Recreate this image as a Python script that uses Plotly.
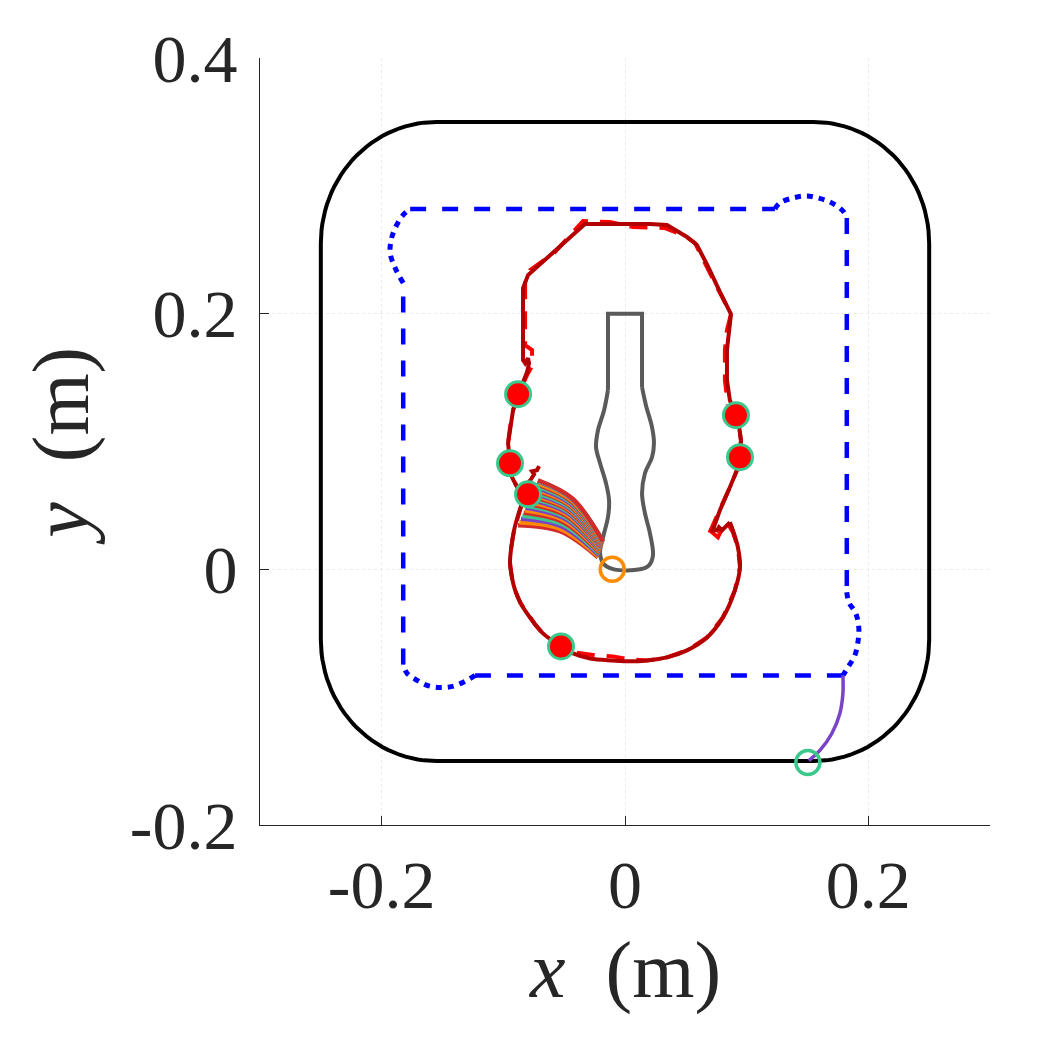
import numpy as np
import plotly.graph_objects as go

# ---------------- data (metres) ----------------
x_ticks = [-0.2, 0.0, 0.2]
x_tick_labels = ["-0.2", "0", "0.2"]
y_ticks = [-0.2, 0.0, 0.2, 0.4]
y_tick_labels = ["-0.2", "0", "0.2", "0.4"]

# workspace boundary (rounded rectangle)
ws_x = [-0.25, 0.25]
ws_y = [-0.15, 0.35]
ws_radius = 0.095

# blue dashed straight parts
blue_dash_x = [-0.1766, 0.1232, None, 0.1823, 0.1823, None, 0.1791, -0.1232, None, -0.1823, -0.1823]
blue_dash_y = [0.2819, 0.2819, None, 0.2749, -0.0180, None, -0.0830, -0.0830, None, -0.0744, 0.2240]
# blue dotted corner parts
blue_dot_x = [-0.1823, -0.1889, -0.1930, -0.1922, -0.1889, -0.1823, -0.1766, None,
              0.1232, 0.1273, 0.1380, 0.1495, 0.1585, 0.1684, 0.1791, 0.1823, None,
              0.1823, 0.1840, 0.1897, 0.1922, 0.1914, 0.1889, 0.1832, 0.1791, None,
              -0.1232, -0.1314, -0.1421, -0.1528, -0.1626, -0.1708, -0.1791, -0.1823]
blue_dot_y = [0.2240, 0.2357, 0.2475, 0.2576, 0.2670, 0.2772, 0.2819, None,
              0.2819, 0.2866, 0.2905, 0.2921, 0.2905, 0.2874, 0.2804, 0.2749, None,
              -0.0180, -0.0258, -0.0345, -0.0462, -0.0572, -0.0673, -0.0767, -0.0830, None,
              -0.0830, -0.0877, -0.0916, -0.0924, -0.0908, -0.0869, -0.0814, -0.0744]

# purple approach path
purple_x = [0.1791, 0.1791, 0.1766, 0.1700, 0.1602, 0.1511]
purple_y = [-0.0830, -0.0971, -0.1128, -0.1284, -0.1417, -0.1496]

# bottle outline
neck_x = [-0.0140, -0.0140, 0.0140, 0.0140]
neck_y = [0.1402, 0.2000, 0.2000, 0.1425]
body_x = [-0.0140, -0.0172, -0.0222, -0.0238, -0.0205, -0.0156, -0.0131, -0.0140, -0.0172,
          -0.0205, -0.0172, -0.0090, 0.0123, 0.0197, 0.0230, 0.0205, 0.0164, 0.0140, 0.0164,
          0.0222, 0.0238, 0.0222, 0.0172, 0.0140]
body_y = [0.1402, 0.1245, 0.1088, 0.0955, 0.0830, 0.0673, 0.0540, 0.0407, 0.0282,
          0.0125, 0.0039, 0.0000, 0.0000, 0.0031, 0.0110, 0.0282, 0.0439, 0.0595, 0.0752,
          0.0877, 0.0987, 0.1112, 0.1284, 0.1425]

# executed end-effector path (dark red): smooth lower loop + upper part
traj_low_x = [-0.0846, -0.0879, -0.0912, -0.0936, -0.0945, -0.0928, -0.0903, -0.0862, -0.0805, -0.0739,
              -0.0674, -0.0600, -0.0526, -0.0427, -0.0287, -0.0099, 0.0041, 0.0181, 0.0345, 0.0509,
              0.0674, 0.0805, 0.0903, 0.0945, 0.0928, 0.0887, 0.0862]
traj_low_y = [0.0517, 0.0423, 0.0305, 0.0164, 0.0047, -0.0070, -0.0164, -0.0258, -0.0345, -0.0431,
              -0.0501, -0.0556, -0.0603, -0.0658, -0.0697, -0.0713, -0.0720, -0.0713, -0.0689, -0.0634,
              -0.0533, -0.0376, -0.0164, 0.0016, 0.0172, 0.0305, 0.0368]
traj_up_x = [0.0862, 0.0821, 0.0797, 0.0772,
             0.0756, 0.0723, 0.0715, 0.0780, 0.0862, 0.0920, 0.0945, 0.0953, 0.0936, 0.0912,
             0.0862, 0.0838, 0.0838, 0.0854, 0.0871, 0.0780, 0.0682, 0.0591, 0.0509, 0.0345,
             0.0205, -0.0329, -0.0559, -0.0797, -0.0838, -0.0838, -0.0821, -0.0797, -0.0789, -0.0805,
             -0.0838, -0.0879, -0.0920, -0.0945, -0.0961, -0.0945, -0.0928, -0.0903, -0.0862, -0.0846,
             None, -0.0838, -0.0805, -0.0772, -0.0747, -0.0764, -0.0723, -0.0706]
traj_up_y = [0.0368, 0.0329, 0.0305, 0.0329,
             0.0305, 0.0313, 0.0290, 0.0462, 0.0642, 0.0775, 0.0877, 0.1010, 0.1128, 0.1206,
             0.1323, 0.1480, 0.1715, 0.1872, 0.1997, 0.2170, 0.2370, 0.2537, 0.2600, 0.2694,
             0.2702, 0.2702, 0.2506, 0.2302, 0.2200, 0.1637, 0.1613, 0.1652, 0.1613, 0.1543,
             0.1464, 0.1370, 0.1245, 0.1112, 0.0987, 0.0830, 0.0720, 0.0673, 0.0603, 0.0517,
             None, 0.0603, 0.0666, 0.0705, 0.0744, 0.0767, 0.0775, 0.0807]

# reference path (bright red dashed)
ref_x = [-0.0846, -0.0879, -0.0912, -0.0936, -0.0945, -0.0928, -0.0903, -0.0862, -0.0805, -0.0739,
         -0.0674, -0.0600, -0.0526, -0.0411, -0.0246, -0.0099, 0.0041, 0.0181, 0.0345, 0.0509,
         0.0674, 0.0805, 0.0903, 0.0945, 0.0928, 0.0887, 0.0862, 0.0821, 0.0788, 0.0764,
         0.0715, 0.0674, 0.0780, 0.0862, 0.0920, 0.0945, 0.0953, 0.0936, 0.0912, 0.0846,
         0.0821, 0.0821, 0.0838, 0.0854, 0.0871, 0.0747, 0.0657, 0.0575, 0.0493, 0.0329,
         0.0066, -0.0123, -0.0345, -0.0575, -0.0780, -0.0821, -0.0821, -0.0764, -0.0764, -0.0805,
         -0.0862, -0.0920, -0.0945, -0.0961, -0.0945, -0.0928, -0.0903, -0.0862, -0.0846]
ref_y = [0.0517, 0.0423, 0.0305, 0.0164, 0.0047, -0.0070, -0.0164, -0.0258, -0.0345, -0.0431,
         -0.0501, -0.0556, -0.0603, -0.0650, -0.0673, -0.0681, -0.0705, -0.0713, -0.0689, -0.0634,
         -0.0533, -0.0376, -0.0164, 0.0016, 0.0172, 0.0290, 0.0329, 0.0266, 0.0298, 0.0251,
         0.0290, 0.0243, 0.0462, 0.0642, 0.0775, 0.0877, 0.1010, 0.1128, 0.1206, 0.1284,
         0.1480, 0.1715, 0.1872, 0.1950, 0.1997, 0.2224, 0.2404, 0.2553, 0.2608, 0.2670,
         0.2678, 0.2717, 0.2725, 0.2482, 0.2341, 0.2263, 0.1754, 0.1715, 0.1590, 0.1519,
         0.1402, 0.1245, 0.1112, 0.0987, 0.0830, 0.0720, 0.0673, 0.0603, 0.0517]

# fan of predicted trajectories: start, middle, end points of each curve (bottom to top)
fan_start_x = [-0.0222, -0.0219, -0.0216, -0.0213, -0.0210, -0.0208, -0.0206, -0.0204, -0.0202,
               -0.0200, -0.0198, -0.0197, -0.0195, -0.0194, -0.0193, -0.0191, -0.0190, -0.0189,
               -0.0187, -0.0186, -0.0184, -0.0183, -0.0182, -0.0181, -0.0181]
fan_start_y = [0.0094, 0.0102, 0.0112, 0.0120, 0.0129, 0.0136, 0.0143, 0.0148, 0.0154,
               0.0159, 0.0165, 0.0171, 0.0175, 0.0179, 0.0183, 0.0187, 0.0191, 0.0196,
               0.0200, 0.0204, 0.0208, 0.0212, 0.0216, 0.0218, 0.0219]
fan_mid_x = [-0.0534, -0.0527, -0.0520, -0.0513, -0.0506, -0.0501, -0.0496, -0.0491, -0.0487,
             -0.0482, -0.0478, -0.0474, -0.0470, -0.0467, -0.0464, -0.0461, -0.0457, -0.0454,
             -0.0451, -0.0447, -0.0444, -0.0441, -0.0437, -0.0436, -0.0435]
fan_mid_y = [0.0298, 0.0315, 0.0335, 0.0352, 0.0369, 0.0384, 0.0398, 0.0410, 0.0421,
             0.0433, 0.0444, 0.0455, 0.0464, 0.0473, 0.0481, 0.0490, 0.0499, 0.0507,
             0.0516, 0.0524, 0.0533, 0.0542, 0.0550, 0.0553, 0.0556]
fan_end_x = [-0.0879, -0.0868, -0.0855, -0.0844, -0.0833, -0.0824, -0.0815, -0.0808, -0.0800,
             -0.0793, -0.0786, -0.0779, -0.0773, -0.0768, -0.0762, -0.0757, -0.0751, -0.0746,
             -0.0740, -0.0735, -0.0729, -0.0724, -0.0718, -0.0716, -0.0715]
fan_end_y = [0.0345, 0.0368, 0.0395, 0.0419, 0.0442, 0.0462, 0.0482, 0.0497, 0.0513,
             0.0529, 0.0544, 0.0560, 0.0572, 0.0583, 0.0595, 0.0607, 0.0619, 0.0630,
             0.0642, 0.0654, 0.0666, 0.0677, 0.0689, 0.0693, 0.0697]
fan_colors = ["#D22B2B", "#FF8C00", "#7B42C8", "#3CC88C"]

# contact points
contact_x = [-0.0879, -0.0945, -0.0797, -0.0526, 0.0912, 0.0945]
contact_y = [0.1370, 0.0830, 0.0587, -0.0603, 0.1206, 0.0877]

start_x = [0.1503]
start_y = [-0.1511]
object_x = [-0.0105]
object_y = [0.0000]

# ---------------- figure ----------------
SERIF = "Liberation Serif, Times New Roman, serif"
AX = "#262626"
fig = go.Figure()

# rounded rectangle boundary built from its bounds and corner radius
t = np.linspace(0, np.pi / 2, 30)
r = ws_radius
cx0, cx1 = ws_x[0] + r, ws_x[1] - r
cy0, cy1 = ws_y[0] + r, ws_y[1] - r
rx = np.concatenate([cx1 + r * np.cos(t), cx0 + r * np.cos(t + np.pi / 2),
                     cx0 + r * np.cos(t + np.pi), cx1 + r * np.cos(t + 1.5 * np.pi), [cx1 + r]])
ry = np.concatenate([cy1 + r * np.sin(t), cy1 + r * np.sin(t + np.pi / 2),
                     cy0 + r * np.sin(t + np.pi), cy0 + r * np.sin(t + 1.5 * np.pi), [cy1]])
fig.add_trace(go.Scatter(x=rx, y=ry, mode="lines", line=dict(color="black", width=4)))

fig.add_trace(go.Scatter(x=blue_dash_x, y=blue_dash_y, mode="lines",
                         line=dict(color="#0000FF", width=4.5, dash="16px,16px")))
fig.add_trace(go.Scatter(x=blue_dot_x, y=blue_dot_y, mode="lines",
                         line=dict(color="#0000FF", width=5, dash="6px,6px", shape="spline")))
fig.add_trace(go.Scatter(x=purple_x, y=purple_y, mode="lines",
                         line=dict(color="#7A42C8", width=3.5, shape="spline")))

fig.add_trace(go.Scatter(x=neck_x, y=neck_y, mode="lines", line=dict(color="#5A5A5A", width=4)))
fig.add_trace(go.Scatter(x=body_x, y=body_y, mode="lines",
                         line=dict(color="#5A5A5A", width=4, shape="spline")))

fig.add_trace(go.Scatter(x=ref_x, y=ref_y, mode="lines",
                         line=dict(color="#FF0000", width=4, dash="18px,12px")))
fig.add_trace(go.Scatter(x=traj_low_x, y=traj_low_y, mode="lines",
                         line=dict(color="#B30000", width=4, shape="spline")))
fig.add_trace(go.Scatter(x=traj_up_x, y=traj_up_y, mode="lines",
                         line=dict(color="#B30000", width=4)))

for i in range(len(fan_end_x)):
    fig.add_trace(go.Scatter(x=[fan_start_x[i], fan_mid_x[i], fan_end_x[i]],
                             y=[fan_start_y[i], fan_mid_y[i], fan_end_y[i]],
                             mode="lines",
                             line=dict(color=fan_colors[i % 4], width=4.5, shape="spline")))

fig.add_trace(go.Scatter(x=contact_x, y=contact_y, mode="markers",
                         marker=dict(size=25, color="#FF0000", line=dict(color="#3CC88C", width=3))))
fig.add_trace(go.Scatter(x=start_x, y=start_y, mode="markers",
                         marker=dict(size=24, color="rgba(0,0,0,0)", line=dict(color="#3CC88C", width=3.5))))
fig.add_trace(go.Scatter(x=object_x, y=object_y, mode="markers",
                         marker=dict(size=24, color="rgba(0,0,0,0)", line=dict(color="#FF8C00", width=3.5))))

axis_common = dict(ticks="inside", ticklen=9, tickcolor=AX, tickwidth=1,
                   showline=True, linecolor=AX, linewidth=1, mirror=False,
                   showgrid=True, gridcolor="#EBEBEB", griddash="dot", gridwidth=1,
                   zeroline=False,
                   tickfont=dict(family=SERIF, size=68, color=AX))
fig.update_xaxes(range=[-0.3, 0.3], tickvals=x_ticks, ticktext=x_tick_labels,
                 ticklabelstandoff=0, **axis_common)
fig.update_yaxes(range=[-0.2, 0.4], tickvals=y_ticks, ticktext=y_tick_labels,
                 ticklabelstandoff=8, **axis_common)

fig.update_layout(
    width=1050, height=1050,
    margin=dict(l=260, r=60, t=58, b=225),
    paper_bgcolor="white", plot_bgcolor="white",
    showlegend=False,
    annotations=[
        dict(text="<i>x</i>&nbsp;&nbsp;(m)", xref="paper", yref="paper", x=0.5, y=-0.19,
             xanchor="center", yanchor="middle", showarrow=False,
             font=dict(family=SERIF, size=80, color=AX)),
        dict(text="<i>y</i>&nbsp;&nbsp;(m)", xref="paper", yref="paper", x=-0.272, y=0.495,
             xanchor="center", yanchor="middle", showarrow=False, textangle=-90,
             font=dict(family=SERIF, size=80, color=AX)),
    ],
)

fig.write_html("out.html")
